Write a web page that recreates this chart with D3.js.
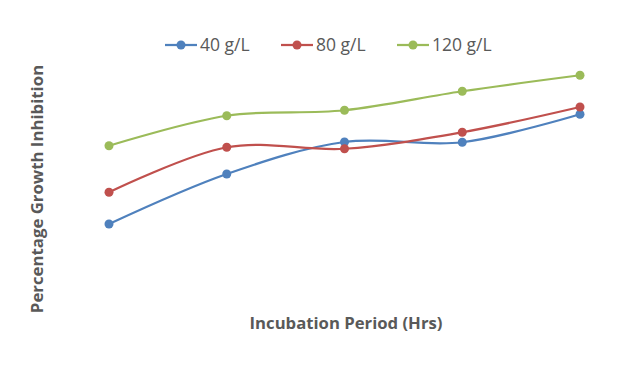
<!DOCTYPE html>
<html>
<head>
<meta charset="utf-8">
<style>
  body { margin: 0; background: #fff; }
  svg text { font-family: "Open Sans", "Liberation Sans", sans-serif; fill: #595959; }
</style>
</head>
<body>
<svg id="chart" width="617" height="371"></svg>
<script src="https://d3js.org/d3.v7.min.js"></script>
<script>
    const WIDTH = 617;
    const HEIGHT = 371;

    // no tick labels in the original, these are read as relative values
    const periods = ['24', '48', '72', '96', '120'];
    const g40 = [24.0, 44.0, 56.8, 56.7, 67.9];
    const g80 = [36.7, 54.7, 54.1, 60.7, 70.8];
    const g120 = [55.3, 67.3, 69.5, 77.1, 83.5];
    const seriesNames = ['40 g/L', '80 g/L', '120 g/L'];
    const colors = ['#4F81BD', '#C0504D', '#9BBB59'];

    let svg = d3.select('#chart');

    svg.append('rect')
        .attr('width', WIDTH)
        .attr('height', HEIGHT)
        .attr('fill', '#ffffff');

    let x = d3.scalePoint()
        .domain(periods)
        .range([109, 580]);

    let y = d3.scaleLinear()
        .domain([0, 100])
        .range([284, 34]);

    let line = d3.line()
        .x((d, i) => x(periods[i]))
        .y(d => y(d))
        .curve(d3.curveCardinal.tension(0));

    let allSeries = [g40, g80, g120];

    allSeries.forEach(function(vals, k) {
        svg.append('path')
            .attr('d', line(vals))
            .attr('fill', 'none')
            .attr('stroke', colors[k])
            .attr('stroke-width', 2.25);
        svg.selectAll('.pt' + k)
            .data(vals)
            .enter()
            .append('circle')
            .attr('class', 'pt' + k)
            .attr('cx', (d, i) => x(periods[i]))
            .attr('cy', d => y(d))
            .attr('r', 4.5)
            .attr('fill', colors[k]);
    });

    // legend
    let legendX = [165, 281, 397];
    seriesNames.forEach(function(name, k) {
        let lg = svg.append('g').attr('transform', 'translate(' + legendX[k] + ',45)');
        lg.append('line')
            .attr('x1', 0).attr('x2', 32)
            .attr('y1', 0).attr('y2', 0)
            .attr('stroke', colors[k])
            .attr('stroke-width', 2.25);
        lg.append('circle')
            .attr('cx', 16).attr('cy', 0).attr('r', 4.5)
            .attr('fill', colors[k]);
        lg.append('text')
            .attr('x', 35).attr('y', 6)
            .style('font-size', '17.5px')
            .text(name);
    });

    // axis titles
    svg.append('text')
        .attr('x', 346).attr('y', 329)
        .attr('text-anchor', 'middle')
        .style('font-size', '16.7px')
        .style('font-weight', 'bold')
        .text('Incubation Period (Hrs)');

    svg.append('text')
        .attr('transform', 'translate(43,189) rotate(-90)')
        .attr('text-anchor', 'middle')
        .style('font-size', '16.8px')
        .style('font-weight', 'bold')
        .text('Percentage Growth Inhibition');
</script>
</body>
</html>
